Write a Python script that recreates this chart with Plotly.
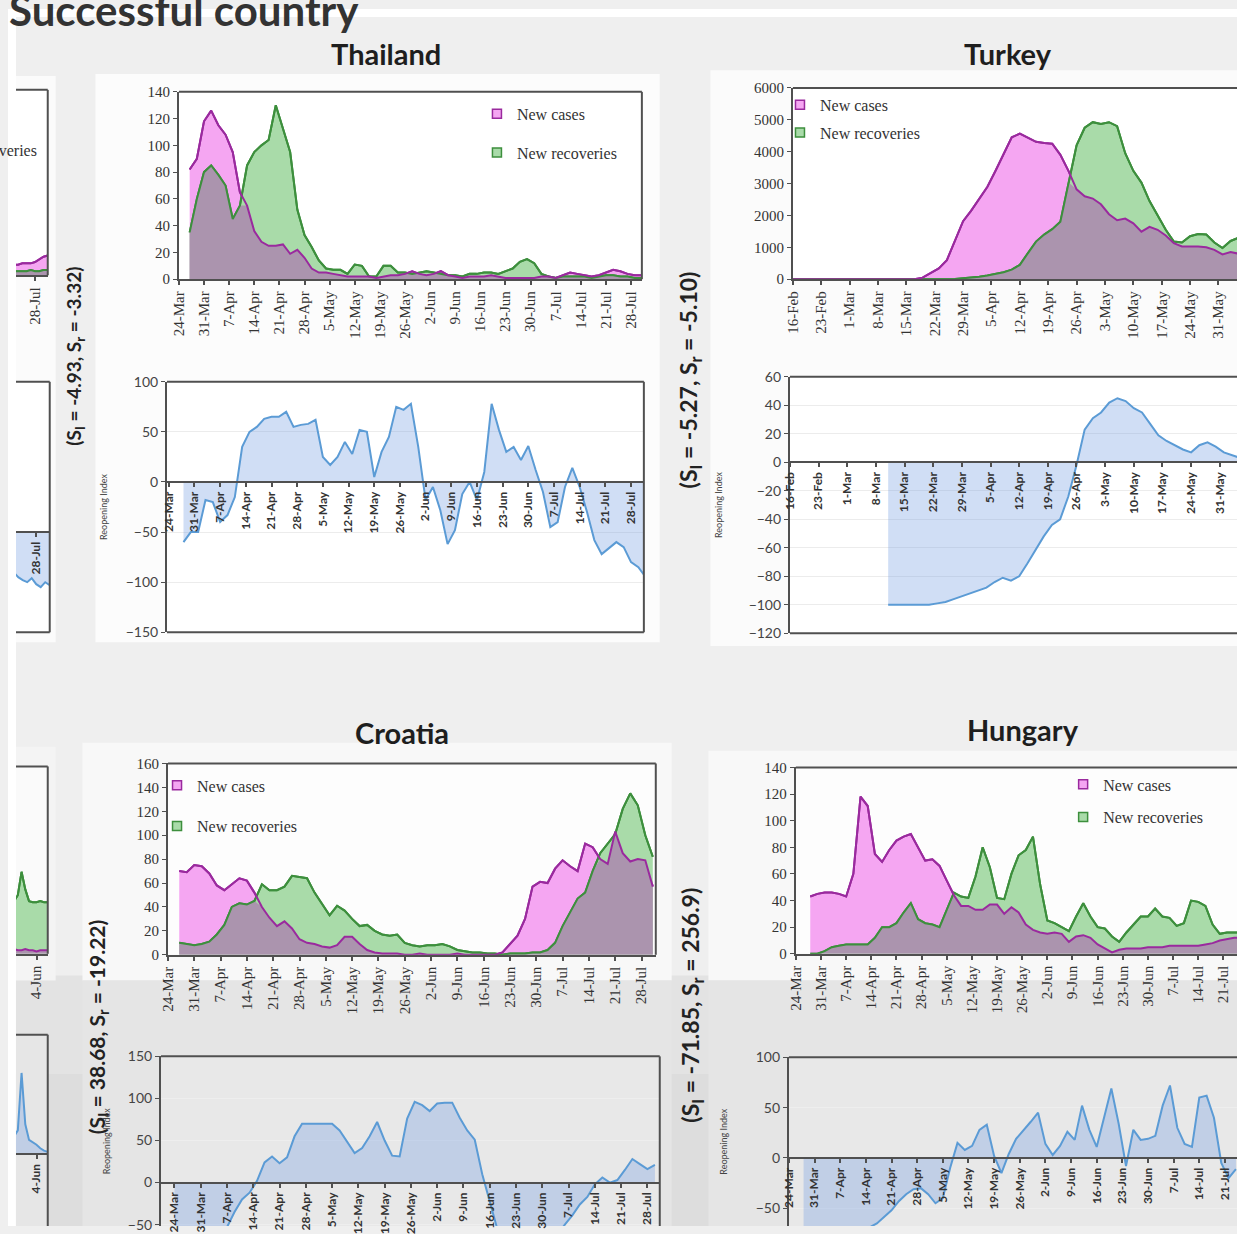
import numpy as np
import pandas as pd
import plotly.graph_objects as go

W, H = 1237, 1234
BORDER = 8                 # white photo border at the left and top

# ------------------------------------------------------------------ data
# Thailand: new cases / recoveries every 2 days from 27-Mar; reopening index every 2 days from 28-Mar
th_start = "2020-03-27"
th_cases = [82, 90, 118, 126, 115, 108, 95, 65, 55, 36,
            28, 25, 25, 26, 19, 22, 16, 8, 5, 5,
            4, 3, 2, 2, 2, 2, 1, 2, 3, 3,
            4, 6, 4, 3, 4, 6, 3, 2, 1, 2,
            2, 2, 3, 2, 1, 1, 1, 1, 1, 2,
            2, 1, 3, 5, 4, 3, 2, 3, 5, 7,
            6, 4, 3, 3]
th_recov = [35, 60, 80, 85, 78, 70, 45, 55, 85, 95,
            100, 104, 130, 112, 95, 52, 33, 24, 14, 8,
            7, 7, 4, 11, 10, 2, 2, 10, 10, 5,
            5, 4, 5, 6, 5, 4, 3, 3, 2, 4,
            4, 5, 5, 4, 6, 8, 13, 15, 12, 4,
            2, 1, 2, 2, 2, 2, 1, 2, 3, 3,
            2, 2, 1, 1]
th_index_start = "2020-03-28"
th_index = [-60, -50, -50, -18, -20, -40, -33, -15, 35, 50,
            55, 63, 65, 65, 70, 55, 57, 58, 62, 25,
            17, 25, 40, 28, 52, 50, 5, 30, 45, 75,
            72, 78, 35, -18, -5, -28, -62, -48, -12, 0,
            -18, 10, 78, 52, 30, 35, 22, 36, 12, -10,
            -45, -40, -5, 14, -5, -30, -58, -72, -66, -60,
            -65, -80, -85, -95]

# Turkey: every 2 days from 16-Feb; reopening index every 2 days from 11-Mar
tr_start = "2020-02-16"
tr_cases = [0, 0, 0, 0, 0, 0, 0, 0, 0, 0, 0, 0, 0, 0, 0, 0,
            50, 200, 340, 600, 1200, 1820, 2150, 2540, 2900, 3400,
            3950, 4450, 4565, 4450, 4310, 4270, 4250, 3900, 3400, 2820,
            2600, 2530, 2350, 2040, 1850, 1900, 1750, 1490, 1640, 1550,
            1370, 1130, 1025, 1025, 1025, 1000, 920, 780, 850, 800]
tr_recov = [0, 0, 0, 0, 0, 0, 0, 0, 0, 0, 0, 0, 0, 0, 0, 0, 0, 0, 0, 0,
            10, 30, 50, 80, 120, 170, 220, 300, 450, 820,
            1180, 1400, 1570, 1800, 3030, 4200, 4750, 4925, 4870, 4925,
            4800, 3950, 3400, 3030, 2450, 2000, 1550, 1180, 1150, 1350,
            1420, 1400, 1150, 980, 1200, 1300]
tr_index_start = "2020-03-11"
tr_index = [-100, -100, -100, -100, -100, -100, -99, -98, -96, -94,
            -92, -90, -88, -84, -81, -83, -80, -71, -62, -52,
            -44, -40, -24, -2, 23, 31, 35, 42, 45, 43,
            38, 35, 27, 19, 15, 12, 9, 7, 12, 14,
            11, 7, 5, 3]

# Croatia: every 2 days from 27-Mar; reopening index every 2 days from 24-Mar
hr_start = "2020-03-27"
hr_cases = [70, 69, 75, 74, 68, 58, 54, 59, 64, 62,
            52, 40, 31, 24, 28, 22, 13, 10, 9, 7,
            6, 8, 15, 15, 9, 4, 2, 1, 1, 1,
            0, 0, 1, 0, 0, 0, 0, 1, 0, 0,
            0, 0, 0, 2, 9, 16, 30, 57, 61, 60,
            72, 79, 74, 70, 93, 90, 80, 76, 103, 85,
            78, 80, 79, 57]
hr_recov = [10, 9, 8, 9, 11, 17, 25, 40, 43, 42,
            45, 59, 54, 54, 57, 66, 65, 64, 52, 43,
            33, 41, 37, 30, 24, 25, 20, 17, 16, 17,
            10, 8, 7, 8, 8, 9, 7, 4, 3, 2,
            2, 1, 1, 0, 1, 1, 1, 2, 2, 4,
            10, 24, 36, 47, 52, 70, 85, 93, 101, 122,
            135, 125, 100, 82]
hr_index_start = "2020-03-24"
hr_index = [-100, -98, -92, -85, -78, -70, -62, -53, -35, -20,
            -12, 2, 24, 31, 23, 30, 55, 70, 70, 70,
            70, 70, 62, 48, 35, 41, 55, 72, 50, 32,
            31, 76, 96, 92, 85, 94, 95, 95, 77, 62,
            51, 10, -22, -55, -70, -80, -85, -88, -85, -80,
            -72, -62, -50, -39, -26, -17, -2, 6, 0, 3,
            15, 28, 22, 16, 21]

# Hungary: every 2 days from 28-Mar
hu_start = "2020-03-28"
hu_cases = [43, 45, 46, 46, 45, 43, 60, 118, 111, 75,
            69, 78, 85, 88, 90, 80, 70, 71, 66, 55,
            44, 36, 36, 33, 33, 37, 37, 30, 35, 31,
            22, 18, 16, 15, 16, 15, 9, 13, 14, 12,
            7, 4, 1, 3, 4, 4, 4, 5, 5, 5,
            6, 6, 6, 6, 6, 7, 8, 10, 11, 12,
            12]
hu_recov = [0, 0, 2, 5, 6, 7, 7, 7, 7, 12,
            20, 20, 23, 31, 38, 26, 23, 22, 20, 33,
            46, 43, 42, 58, 80, 65, 42, 41, 60, 74,
            78, 88, 52, 25, 23, 20, 17, 28, 38, 28,
            20, 19, 13, 9, 16, 22, 28, 28, 34, 28,
            27, 21, 23, 40, 39, 36, 22, 15, 16, 16,
            16]
hu_index_start = "2020-03-28"
hu_index = [-100, -97, -93, -89, -86, -82, -79, -76, -72, -69,
            -65, -58, -52, -43, -36, -31, -30, -36, -45, -40,
            -10, 15, 8, 12, 28, 33, 2, -15, 4, 19,
            27, 36, 45, 14, 3, 12, 26, 18, 52, 28,
            11, 40, 69, 34, -8, 28, 18, 19, 22, 52,
            72, 30, 14, 11, 60, 62, 40, -5, -20, -11]

# neighbouring (cut-off) charts at the left edge, daily values
left1_start = "2020-07-23"
left1_cases = [8, 8, 9, 9, 9, 10, 12, 14, 15]
left1_recov = [3, 3, 3, 3, 4, 3, 3, 4, 4]
left1_index = [-40, -45, -48, -50, -46, -52, -55, -50, -53]
left2_start = "2020-05-29"
left2_cases = [4, 3, 3, 4, 3, 3, 2, 3, 3, 3]
left2_recov = [45, 50, 70, 55, 45, 44, 44, 45, 44, 44]
left2_index = [15, 20, 68, 25, 12, 10, 8, 5, 3, 2]

countries = ["Thailand", "Turkey", "Croatia", "Hungary"]
s_labels = ["(S<sub>I</sub> = -4.93, S<sub>r</sub> = -3.32)",
            "(S<sub>I</sub> = -5.27, S<sub>r</sub> = -5.10)",
            "(S<sub>I</sub> = 38.68, S<sub>r</sub> = -19.22)",
            "(S<sub>I</sub> = -71.85, S<sub>r</sub> = 256.9)"]
series_names = ["New cases", "New recoveries"]
index_title = "Reopening Index"
page_title = "Successful country"

# ------------------------------------------------------------------ style
SERIF = "Liberation Serif, Times New Roman, serif"
SANS = "Lato, Open Sans, sans-serif"
PINK_FILL, PINK_LINE = "#f5a6f2", "#9a2a9e"
GREEN_FILL, GREEN_LINE = "#a9dba9", "#3d8f3d"
OVERLAP = "#ab94ae"
BLUE_FILL, BLUE_LINE = "rgba(120,160,225,0.35)", "#5b9bd5"
FRAME = "#505050"
WEEK = 7 * 86400000


def fx(p):
    return p / W


def fy(p):
    return 1 - p / H


def ax(n):
    return ("x" if n == 1 else f"x{n}"), ("y" if n == 1 else f"y{n}")


def lk(n):
    return ("xaxis" if n == 1 else f"xaxis{n}"), ("yaxis" if n == 1 else f"yaxis{n}")


def dates(start, vals, freq="2D"):
    return pd.date_range(start, periods=len(vals), freq=freq)


fig = go.Figure()
layout = {}
shapes = []
annotations = []


def panel(n, xpx, ypx, xrange, yrange, tick0, kind, ytick=None, ylabels=True,
          right=True, bottom=True, bg="#ffffff", grid=None, title_standoff=None):
    xk, yk = lk(n)
    xid, yid = ax(n)
    top_px, bot_px = ypx
    ydom = [max(0, fy(bot_px)), min(1, fy(top_px))]
    if kind == "top":
        tfont = dict(family=SERIF, size=15, color="#333")
        yfont = dict(family=SERIF, size=15, color="#333")
    else:
        tfont = dict(family=SANS, size=12, color="#333", weight="bold")
        yfont = dict(family=SANS, size=14, color="#444")
    xa = dict(domain=[max(0, fx(xpx[0])), min(1, fx(xpx[1]))], range=xrange, type="date",
              tick0=tick0, dtick=WEEK, tickformat="%-d-%b", tickangle=-90,
              ticks="outside", ticklen=4, tickcolor=FRAME, tickwidth=1.5,
              showline=True, linecolor=FRAME, linewidth=2, showgrid=False,
              zeroline=False, tickfont=tfont, layer="above traces")
    if kind == "top":
        xa["anchor"] = yid
    else:
        frac = (0 - yrange[0]) / (yrange[1] - yrange[0])
        xa["anchor"] = "free"
        xa["position"] = ydom[0] + frac * (ydom[1] - ydom[0])
    ya = dict(domain=ydom, range=yrange, anchor=xid, showline=ylabels,
              linecolor=FRAME, linewidth=2, ticks="outside" if ylabels else "",
              ticklen=4, tickcolor=FRAME, showticklabels=ylabels,
              zeroline=False, tickfont=yfont, showgrid=grid is not None,
              gridcolor=grid if grid else "#eeeeee")
    if ytick:
        ya["dtick"] = ytick
    if title_standoff is not None:
        ya["title"] = dict(text=index_title, font=dict(family=SANS, size=9, color="#444"),
                           standoff=title_standoff)
    layout[xk] = xa
    layout[yk] = ya
    ref = dict(xref=f"{xid} domain", yref=f"{yid} domain")
    shapes.append(dict(type="rect", x0=0, x1=1, y0=0, y1=1, fillcolor=bg,
                       line=dict(width=0), layer="below", **ref))
    ln = dict(color=FRAME, width=2)
    shapes.append(dict(type="line", x0=0, x1=1, y0=1, y1=1, line=ln, layer="above", **ref))
    if right:
        shapes.append(dict(type="line", x0=1, x1=1, y0=0, y1=1, line=ln, layer="above", **ref))
    if kind != "top" and bottom:
        shapes.append(dict(type="line", x0=0, x1=1, y0=0, y1=0, line=ln, layer="above", **ref))


def add_cases(n, start, cases, recov, legend_id=None, freq="2D"):
    xid, yid = ax(n)
    xs = dates(start, cases, freq)
    common = dict(hoverinfo="skip", xaxis=xid, yaxis=yid, showlegend=False)
    fig.add_trace(go.Scatter(x=xs, y=cases, mode="lines", fill="tozeroy", fillcolor=PINK_FILL,
                             line=dict(color=PINK_LINE, width=2), **common))
    fig.add_trace(go.Scatter(x=xs, y=recov, mode="lines", fill="tozeroy", fillcolor=GREEN_FILL,
                             line=dict(color=GREEN_LINE, width=2), **common))
    fig.add_trace(go.Scatter(x=xs, y=np.minimum(cases, recov), mode="lines", fill="tozeroy",
                             fillcolor=OVERLAP, line=dict(width=0), **common))
    fig.add_trace(go.Scatter(x=xs, y=recov, mode="lines",
                             line=dict(color=GREEN_LINE, width=2), **common))
    fig.add_trace(go.Scatter(x=xs, y=cases, mode="lines",
                             line=dict(color=PINK_LINE, width=2), **common))
    if legend_id is not None:
        for rank, (nm, fc, lc) in enumerate([(series_names[0], PINK_FILL, PINK_LINE),
                                             (series_names[1], GREEN_FILL, GREEN_LINE)]):
            fig.add_trace(go.Scatter(x=[None], y=[None], mode="markers", name=nm,
                                     marker=dict(symbol="square", size=9, color=fc,
                                                 line=dict(color=lc, width=1.5)),
                                     legend=legend_id, legendgroup=f"{legend_id}{rank}",
                                     legendrank=rank + 1, showlegend=True,
                                     hoverinfo="skip", xaxis=xid, yaxis=yid))


def add_index(n, start, vals, freq="2D"):
    xid, yid = ax(n)
    fig.add_trace(go.Scatter(x=dates(start, vals, freq), y=vals, mode="lines",
                             fill="tozeroy", fillcolor=BLUE_FILL,
                             line=dict(color=BLUE_LINE, width=2), showlegend=False,
                             hoverinfo="skip", xaxis=xid, yaxis=yid))


# ------------------------------------------------------------------ background
def prect(x0, y0, x1, y1, color, layer="below"):
    shapes.append(dict(type="rect", xref="paper", yref="paper", x0=fx(x0), x1=fx(x1),
                       y0=fy(y1), y1=fy(y0), fillcolor=color, line=dict(width=0), layer=layer))


prect(0, 0, W, BORDER, "#ffffff")
prect(0, 980, W, H, "#e3e3e3")
prect(0, 1080, W, H, "#dddddd")
prect(0, 68, 48, 642, "#fbfbfb")
prect(88, 66, 656, 642, "#fcfcfc")
prect(707, 62, W, 646, "#fbfbfb")
prect(0, 748, 48, 985, "#f4f4f4")
prect(75, 744, 668, 985, "#f8f8f8")
prect(75, 985, 668, H, "#e5e5e5")
prect(705, 752, W, 985, "#f8f8f8")
prect(705, 985, W, H, "#e5e5e5")

# ------------------------------------------------------------------ panels
# Thailand
panel(1, (172, 638), (84, 274), ["2020-03-24", "2020-07-31"], [0, 140], "2020-03-24", "top", 20)
add_cases(1, th_start, th_cases, th_recov, "legend")
panel(2, (160, 640), (378, 632), ["2020-03-23 12:00", "2020-07-31 12:00"], [-150, 100],
      "2020-03-24", "bottom", 50, grid="#ececec", title_standoff=17)
add_index(2, th_index_start, th_index)
# Turkey
panel(3, (790, W), (80, 274), ["2020-02-16", "2020-06-04 14:00"], [0, 6000], "2020-02-16",
      "top", 1000, right=False)
add_cases(3, tr_start, tr_cases, tr_recov, "legend2")
panel(4, (787, W), (373, 633), ["2020-02-16", "2020-06-04 05:00"], [-120, 60], "2020-02-16",
      "bottom", 20, right=False, grid="#ececec", title_standoff=24)
add_index(4, tr_index_start, tr_index)
# Croatia
panel(5, (161, 652), (765, 959), ["2020-03-24", "2020-07-31 19:00"], [0, 160], "2020-03-24",
      "top", 20, bg="#fdfdfd")
add_cases(5, hr_start, hr_cases, hr_recov, "legend3")
panel(6, (154, 656), (1062, H), ["2020-03-20 10:00", "2020-07-31 07:00"], [-51.6, 150],
      "2020-03-24", "bottom", 50, bottom=False, bg="#e8e8e8", grid="#eeeeee", title_standoff=16)
add_index(6, hr_index_start, hr_index)
# Hungary
panel(7, (793, W), (769, 958), ["2020-03-24", "2020-07-24 19:00"], [0, 140], "2020-03-24",
      "top", 20, right=False, bg="#fdfdfd")
add_cases(7, hu_start, hu_cases, hu_recov, "legend4")
panel(8, (786, W), (1063, H), ["2020-03-24", "2020-07-24 07:00"], [-67.6, 100], "2020-03-24",
      "bottom", 50, right=False, bottom=False, bg="#e8e8e8", grid="#eeeeee", title_standoff=27)
add_index(8, hu_index_start, hu_index)

# cut-off neighbours on the left edge
panel(9, (BORDER, 40), (82, 270), ["2020-07-23 12:00", "2020-07-31"], [0, 140], "2020-07-28",
      "top", ylabels=False)
add_cases(9, left1_start, left1_cases, left1_recov, freq="1D")
panel(10, (BORDER, 42), (378, 632), ["2020-07-23 12:00", "2020-07-31"], [-100, 150],
      "2020-07-28", "bottom", ylabels=False)
add_index(10, left1_start, left1_index, freq="1D")
panel(11, (BORDER, 40), (768, 958), ["2020-05-29 12:00", "2020-06-07"], [0, 160], "2020-06-04",
      "top", ylabels=False, bg="#fafafa")
add_cases(11, left2_start, left2_cases, left2_recov, freq="1D")
panel(12, (BORDER, 40), (1040, H), ["2020-05-29 12:00", "2020-06-07"], [-60, 100], "2020-06-04",
      "bottom", ylabels=False, bottom=False, bg="#e6e6e6")
add_index(12, left2_start, left2_index, freq="1D")

# white photo border on the left (above the cut-off charts)
prect(0, 0, BORDER, H, "#ffffff", layer="above")

# ------------------------------------------------------------------ text
for name, (cx, cy) in zip(countries, [(380, 45), (1007, 45), (397, 734), (1022, 731)]):
    annotations.append(dict(text=f"<b>{name}</b>", x=fx(cx), y=fy(cy), xref="paper",
                            yref="paper", xanchor="center", yanchor="middle", showarrow=False,
                            font=dict(family=SANS, size=29, color="#1e1e1e")))
for lab, (cx, cy), fs in zip(s_labels, [(68, 352), (686, 376), (90, 1032), (688, 1010)],
                             [19, 23, 21, 23]):
    annotations.append(dict(text=f"<b>{lab}</b>", x=fx(cx), y=fy(cy), xref="paper",
                            yref="paper", xanchor="center", yanchor="middle",
                            showarrow=False, textangle=-90,
                            font=dict(family=SANS, size=fs, color="#222")))
annotations.append(dict(text=f"<b>{page_title}</b>", x=fx(355), y=fy(1), xref="paper",
                        yref="paper", xanchor="right", yanchor="middle", showarrow=False,
                        font=dict(family=SANS, size=42, color="#333")))
annotations.append(dict(text=series_names[1], x=fx(31), y=fy(143), xref="paper", yref="paper",
                        xanchor="right", yanchor="middle", showarrow=False,
                        font=dict(family=SERIF, size=16, color="#333")))

leg_common = dict(xanchor="left", yanchor="top", bgcolor="rgba(0,0,0,0)", traceorder="grouped",
                  font=dict(family=SERIF, size=16, color="#333"), itemwidth=30)
layout["legend"] = dict(x=fx(472), y=fy(89), tracegroupgap=15, **leg_common)
layout["legend2"] = dict(x=fx(777), y=fy(80), tracegroupgap=4, **leg_common)
layout["legend3"] = dict(x=fx(150), y=fy(770), tracegroupgap=17, **leg_common)
layout["legend4"] = dict(x=fx(1062), y=fy(769), tracegroupgap=9, **leg_common)

fig.update_layout(width=W, height=H, autosize=False, margin=dict(l=0, r=0, t=0, b=0),
                  paper_bgcolor="#efefef", plot_bgcolor="rgba(0,0,0,0)",
                  shapes=shapes, annotations=annotations, hovermode=False, **layout)

# the page body keeps no margin, so the figure fills the window exactly
fig.write_html("out.html", config={"displayModeBar": False},
               post_script="document.body.style.margin='0';document.body.style.overflow='hidden';")
